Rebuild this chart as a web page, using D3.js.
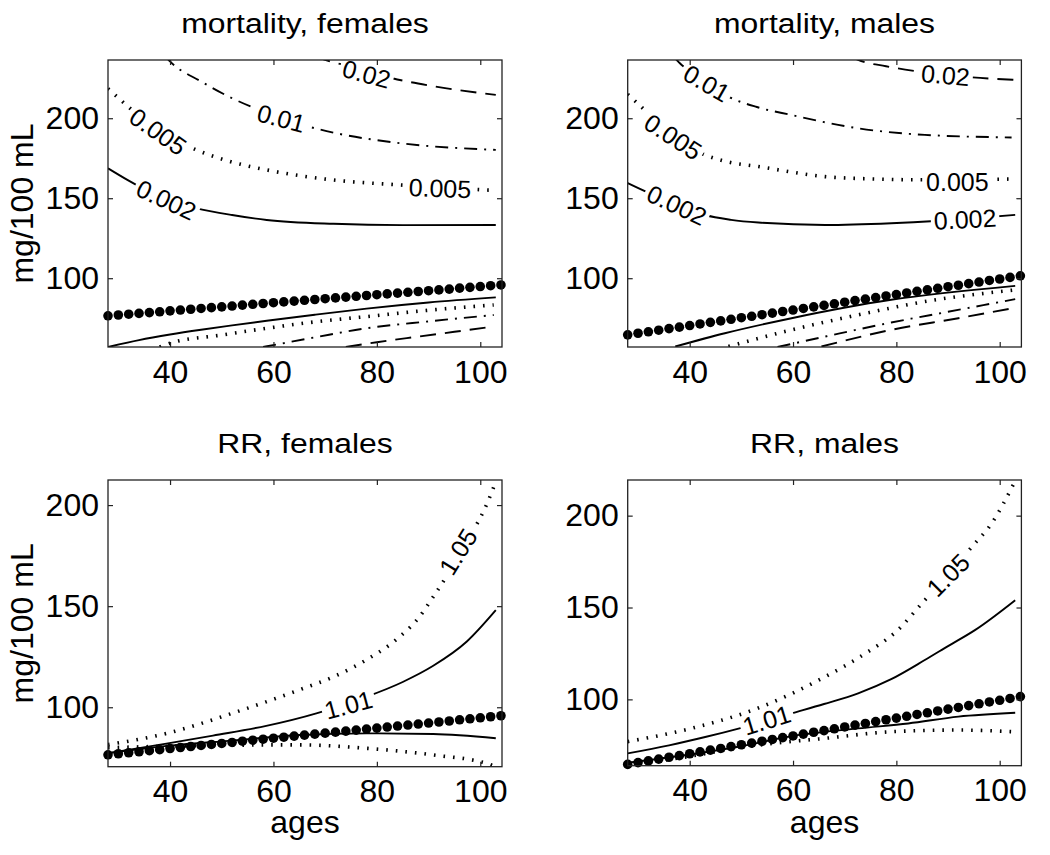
<!DOCTYPE html>
<html><head><meta charset="utf-8">
<script src="https://cdn.jsdelivr.net/npm/d3@7"></script>
<style>
body{margin:0;background:#fff}
svg{display:block}
text{font-family:"Liberation Sans",Arial,Helvetica,sans-serif;fill:#000}
</style>
</head><body>
<svg id="c" width="1050" height="855"></svg>
<script>
// ---------- data ----------
const xDomain = [28, 104.2];
const xTicks = [40, 60, 80, 100];
const yTicks = [100, 150, 200];

const dotAges = [28,30,32,34,36,38,40,42,44,46,48,50,52,54,56,58,60,62,64,66,68,70,72,74,76,78,80,82,84,86,88,90,92,94,96,98,100,102,104];
const dotsFemales = [76.5,77.0,77.5,78.0,78.5,79.0,79.6,80.1,80.6,81.1,81.6,82.1,82.6,83.2,83.7,84.2,84.7,85.2,85.7,86.2,86.7,87.2,87.7,88.2,88.7,89.2,89.7,90.2,90.7,91.2,91.7,92.2,92.7,93.2,93.8,94.3,94.8,95.3,95.8];
const dotsMales = [64.6,65.6,66.5,67.5,68.5,69.4,70.4,71.4,72.4,73.3,74.3,75.3,76.2,77.2,78.2,79.2,80.1,81.1,82.1,83.0,84.0,85.0,86.0,86.9,87.9,88.9,89.8,90.8,91.8,92.7,93.7,94.7,95.6,96.6,97.6,98.6,99.5,100.5,101.5];

// mortality, females  [age, mg/100 mL]
const mfUp002 = [[28,168.7],[32,161],[36,154],[39.4,149],[45,143.8],[52,139.5],[58.7,136.4],[71.6,134],[85,133.2],[103,133.3]];
const mfUp005 = [[28,218.5],[32,207],[37.7,192],[44.5,181],[51,173.5],[58.7,167.7],[71.6,161.4],[84.5,158.3],[102,155]];
const mfUp01  = [[39,239],[40,235.5],[46,223],[52,212.5],[57,205.5],[61.6,200],[66,195.5],[71.6,191],[84.5,184.4],[103,180.2]];
const mfUp02  = [[68,239],[70,236.5],[76,231.5],[83,225],[91,220],[103,214.6]];
const mfLo002 = [[28,57],[34,61.3],[40,64.8],[46,67.8],[52,70.5],[58.7,73.4],[68,77.2],[78,81],[90,84.8],[103,88]];
const mfLo005 = [[38,57],[40,59.4],[50,64.5],[58.7,68.7],[68,72.7],[78,76],[90,80],[102.6,83.3]];
const mfLo01  = [[58,57],[68,63],[78,68.7],[90,73],[102.6,77]];
const mfLo02  = [[74,57],[80,60],[88,63.5],[95,66.5],[102.6,69.8]];

// mortality, males
const mmUp002 = [[28,159.5],[32,153.5],[37.5,146.5],[43,139.5],[48,136.5],[53.3,134.8],[66.2,133.3],[79,134.4],[87.5,135.8],[95,137.5],[103,139.6]];
const mmUp005 = [[28,215],[32,203],[36.8,188.5],[42.3,178],[47,173],[53.3,169.8],[66.2,163.5],[76,162],[84.3,161.5],[102.3,162]];
const mmUp01  = [[37,238],[38.1,234.4],[43.3,222],[47.5,213.5],[53,207],[59.7,202],[72.6,193.7],[85.5,189.6],[102.3,188]];
const mmUp02  = [[71,239],[72.6,236.5],[78,232.5],[84.3,229.2],[94.6,225.6],[103,224]];
const mmLo002 = [[37.2,57.3],[46.8,65.6],[59.7,75],[79,86.5],[103,95.2]];
const mmLo005 = [[47.5,57.3],[59.7,67.7],[72.6,77.1],[85.5,85.4],[103,92.7]];
const mmLo01  = [[57,57],[66.2,63.5],[79,72.3],[90,79],[103,86.9]];
const mmLo02  = [[65.5,57.3],[79,67.7],[92,75],[103,81.5]];

// RR, females
const rfUp105 = [[28,81.5],[40,87.5],[52,97],[65,108.6],[72,115.5],[78,123.5],[84,134],[88,144],[91,155],[94,167],[96.5,178],[99,189],[101,199],[103,211.5]];
const rfUp101 = [[28,77.3],[39.3,82],[48.3,86],[58.6,90.8],[68.3,97],[73,100.8],[78,105.2],[85,112.5],[90.9,120.5],[97.4,132.5],[103,148]];
const rfLo101 = [[28,77.3],[40,81],[52,83.5],[65,86.3],[78,87.1],[90.9,86.8],[103,84.7]];
const rfLo105 = [[28,80],[45,81],[65,81.4],[78,79.7],[90.9,76.4],[101.5,72],[104,69]];

// RR, males
const rmUp105 = [[28,77],[40,84],[53,95],[66,112],[74,125],[80,137],[85.5,154],[90,167.5],[94.6,183],[98.5,196],[102.6,216.7]];
const rmUp101 = [[28,70.6],[36,75],[43,79.5],[50,84.5],[59.7,92.4],[66,97.5],[72.6,103.3],[79,111],[85.5,121.4],[90,129],[95.2,137.7],[103,154]];
const rmLo101 = [[28,65.5],[40,70],[50,74.5],[59.7,80],[72.6,84.2],[82.3,86.9],[92,90.6],[103,92.7]];
const rmLo105 = [[28,64.5],[40,69],[46.8,72.4],[56,76],[66.2,78.8],[79,82.4],[92,83.3],[102.6,82.4]];

// ---------- layout / styles ----------
const styles = {
  solid:   {dash: null,        w: 1.9},
  dashed:  {dash: "16,9",      w: 1.9},
  dashdot: {dash: "13,7,2,7",  w: 1.9},
  dotted:  {dash: "1.6,8",     w: 3.6}
};

const panels = [
  {title: "mortality, females", box: [108, 60, 502, 347], yDomain: [57, 236.4], dots: dotsFemales, ylab: true, xlab: false,
   lines: [[mfUp002,"solid"],[mfUp005,"dotted"],[mfUp01,"dashdot"],[mfUp02,"dashed"],
           [mfLo002,"solid"],[mfLo005,"dotted"],[mfLo01,"dashdot"],[mfLo02,"dashed"]],
   labels: [["0.02",78,227.7,15],["0.01",61.5,200,15],["0.005",37.7,191.7,35],["0.005",92.2,156.3,2],["0.002",39.3,149,25]]},
  {title: "mortality, males", box: [627.7, 60, 1021.4, 347], yDomain: [57, 236.4], dots: dotsMales, ylab: false, xlab: false,
   lines: [[mmUp002,"solid"],[mmUp005,"dotted"],[mmUp01,"dashdot"],[mmUp02,"dashed"],
           [mmLo002,"solid"],[mmLo005,"dotted"],[mmLo01,"dashdot"],[mmLo02,"dashed"]],
   labels: [["0.02",89.5,227,5],["0.01",43.3,221.9,30],["0.005",36.8,188.5,33],["0.005",91.8,160.4,0],["0.002",37.5,145.8,25],["0.002",93.3,136.9,-3]]},
  {title: "RR, females", box: [108, 480, 502, 766.7], yDomain: [70.6, 212.4], dots: dotsFemales, ylab: true, xlab: true,
   lines: [[rfUp105,"dotted"],[rfUp101,"solid"],[rfLo101,"solid"],[rfLo105,"dotted"]],
   labels: [["1.05",95.7,177,-58],["1.01",74.5,101.2,-15]]},
  {title: "RR, males", box: [627.7, 480, 1021.4, 765.7], yDomain: [63.9, 219.4], dots: dotsMales, ylab: false, xlab: true,
   lines: [[rmUp105,"dotted"],[rmUp101,"solid"],[rmLo101,"solid"],[rmLo105,"dotted"]],
   labels: [["1.05",90,167.7,-45],["1.01",54.9,88.75,-17]]}
];

// ---------- draw ----------
const svg = d3.select("#c");
const defs = svg.append("defs");

panels.forEach((p, i) => {
  const [L, T, R, B] = p.box;
  const x = d3.scaleLinear().domain(xDomain).range([L, R]);
  const y = d3.scaleLinear().domain(p.yDomain).range([B, T]);
  const g = svg.append("g");

  defs.append("clipPath").attr("id", "clip" + i)
    .append("rect").attr("x", L).attr("y", T).attr("width", R - L).attr("height", B - T);

  const plot = g.append("g").attr("clip-path", `url(#clip${i})`);
  const line = d3.line().x(d => x(d[0])).y(d => y(d[1])).curve(d3.curveMonotoneX);

  p.lines.forEach(([data, st]) => {
    const s = styles[st];
    plot.append("path").datum(data).attr("d", line)
      .attr("fill", "none").attr("stroke", "#000")
      .attr("stroke-width", s.w)
      .attr("stroke-dasharray", s.dash);
  });

  // contour labels: white gap in the line under each label
  p.labels.forEach(([txt, a, v, ang]) => {
    const lg = plot.append("g").attr("transform", `translate(${x(a)},${y(v)}) rotate(${ang})`);
    const bg = lg.append("rect").attr("fill", "#fff");
    const t = lg.append("text")
      .attr("text-anchor", "middle").attr("dy", "0.36em")
      .attr("font-size", 25).text(txt);
    const bb = t.node().getBBox();
    bg.attr("x", bb.x - 3).attr("y", bb.y + 4).attr("width", bb.width + 6).attr("height", bb.height - 8);
  });

  // dots
  g.append("g").selectAll("circle").data(dotAges.map((a, k) => [a, p.dots[k]]))
    .join("circle").attr("cx", d => x(d[0])).attr("cy", d => y(d[1])).attr("r", 4.8).attr("fill", "#000");

  // axes (inward ticks on all four sides)
  const ax = (gen, tr) => {
    const a = g.append("g").attr("transform", tr).call(gen);
    a.select(".domain").remove();
    a.selectAll("line").attr("stroke", "#222").attr("stroke-width", 1.2);
    a.attr("font-family", null).attr("font-size", null);
    a.selectAll("text").attr("font-size", 32).attr("fill", "#000");
    return a;
  };
  ax(d3.axisBottom(x).tickValues(xTicks).tickSizeInner(-5).tickSizeOuter(0).tickPadding(13), `translate(0,${B})`);
  ax(d3.axisTop(x).tickValues(xTicks).tickSizeInner(-5).tickSizeOuter(0).tickFormat(""), `translate(0,${T})`);
  ax(d3.axisLeft(y).tickValues(yTicks).tickSizeInner(-5).tickSizeOuter(0).tickPadding(9), `translate(${L},0)`);
  ax(d3.axisRight(y).tickValues(yTicks).tickSizeInner(-5).tickSizeOuter(0).tickFormat(""), `translate(${R},0)`);

  // box
  g.append("rect").attr("x", L).attr("y", T).attr("width", R - L).attr("height", B - T)
    .attr("fill", "none").attr("stroke", "#222").attr("stroke-width", 1.3);

  // title
  g.append("text")
    .attr("transform", `translate(${(L + R) / 2},${T - 26.7}) scale(1.14,1)`)
    .attr("text-anchor", "middle").attr("font-size", 28).text(p.title);

  if (p.ylab) {
    g.append("text")
      .attr("transform", `translate(33,${(T + B) / 2}) rotate(-90)`)
      .attr("text-anchor", "middle").attr("font-size", 32).text("mg/100 mL");
  }
  if (p.xlab) {
    g.append("text").attr("x", (L + R) / 2).attr("y", 833)
      .attr("text-anchor", "middle").attr("font-size", 32).text("ages");
  }
});
</script>
</body></html>
